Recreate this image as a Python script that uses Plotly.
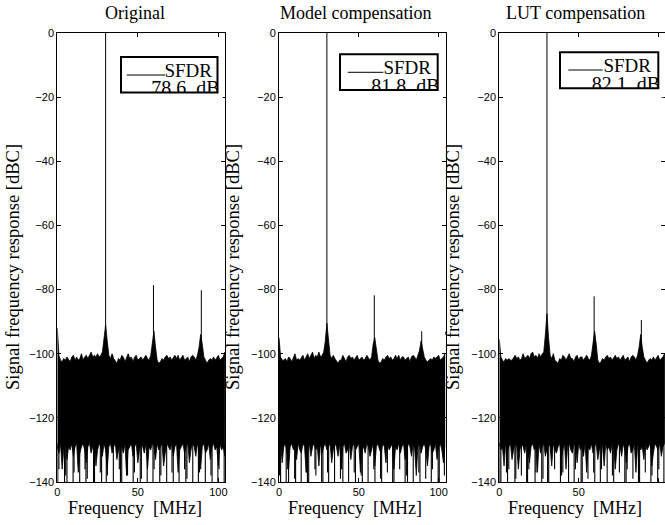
import plotly.graph_objects as go

# ---------------- data ----------------
panel_titles = ["Original", "Model compensation", "LUT compensation"]
sfdr_db = ["78.6", "81.8", "82.1"]

freq_step_mhz = 1.0  # spectrum envelope sampled every 1 MHz, 0..104 MHz

# upper edge of the noise floor [dBc]
upper_orig = [-92, -100.5, -102, -102.5, -101.5, -102, -101, -102, -102.5, -101,
              -100.5, -102, -101, -102, -101.5, -100, -102, -101, -100.5, -101.5,
              -100.5, -99.5, -101, -100.5, -101, -100, -101, -100.5, -99.5, -95,
              -91, -96, -100.5, -101.5, -100, -101.5, -102.5, -103, -101.5, -102,
              -100.5, -101, -102.5, -101, -100, -101.5, -101, -102.5, -101, -100.5,
              -102, -101.5, -101, -102, -101, -100.5, -101.5, -102, -100.5, -96,
              -93, -98, -102, -103, -102.5, -101.5, -102, -101, -100.5, -101.5,
              -101, -102, -101, -100.5, -101.5, -100.5, -102, -101, -100.5, -102,
              -101.5, -101, -102.5, -101, -100.5, -101, -102, -100.5, -98, -94,
              -97, -101, -102, -103, -102, -101.5, -102, -101, -102, -101,
              -100.5, -102, -101.5, -101, -99.5]
upper_model = [-95, -101, -102, -102, -101.5, -102.5, -101, -101.5, -102.5, -101,
               -100, -102, -101.5, -102, -101, -100.5, -102, -101, -100, -101.5,
               -100.5, -99.5, -101.5, -100.5, -101, -99.5, -101, -100.5, -99.5, -96,
               -90.5, -95, -100.5, -101.5, -100.5, -101.5, -102.5, -103, -102, -102,
               -100.5, -101.5, -102.5, -101, -100.5, -101.5, -101, -102, -101, -100.5,
               -102, -101.5, -101, -102, -101.5, -100.5, -101.5, -102, -101, -97,
               -95, -98, -102, -103, -102.5, -101.5, -102, -101, -100.5, -101.5,
               -101, -102, -101.5, -100.5, -101.5, -100.5, -102, -101, -101, -102,
               -101.5, -101, -102.5, -101, -100.5, -101, -102, -100.5, -99, -96,
               -99, -101, -102, -102.5, -102, -101.5, -102, -101, -101.5, -101,
               -100.5, -102, -101.5, -101, -100]
upper_lut = [-95.5, -101, -102, -102.5, -101.5, -102, -101.5, -102, -102, -101,
             -100.5, -101.5, -101, -102, -101.5, -100, -101.5, -101, -100.5, -101.5,
             -100, -99.5, -101, -100.5, -101.5, -100, -101, -100, -99.5, -94,
             -87.5, -95, -100.5, -101.5, -100, -102, -102.5, -103, -101.5, -102,
             -100.5, -101, -102, -101, -100, -101.5, -101.5, -102.5, -101, -100.5,
             -102, -101, -101, -102, -101, -100.5, -101.5, -102, -100.5, -96,
             -93, -97, -102, -103, -102.5, -101.5, -102, -101, -100.5, -101.5,
             -101, -102, -101, -100.5, -101.5, -101, -102, -101, -100.5, -102,
             -101.5, -101, -102.5, -101, -100.5, -101, -102, -100.5, -98, -94,
             -98, -101, -102, -103, -102, -101.5, -102, -101, -102, -101,
             -100.5, -102, -101.5, -101, -100]

# lower edge of the solid part of the noise floor [dBc]
lower_orig = [-129, -131, -128, -136, -130, -128, -133, -129, -130, -128,
              -132, -129, -128, -137, -131, -129, -128, -130, -134, -129,
              -128, -131, -129, -128, -135, -130, -128, -129, -132, -128,
              -130, -136, -129, -128, -131, -129, -128, -133, -130, -128,
              -129, -131, -128, -138, -130, -129, -128, -132, -129, -128,
              -134, -130, -128, -129, -131, -128, -136, -129, -130, -128,
              -129, -133, -128, -130, -129, -128, -135, -131, -128, -129,
              -130, -128, -132, -129, -128, -137, -130, -129, -128, -131,
              -129, -128, -134, -130, -128, -129, -132, -128, -130, -136,
              -129, -128, -131, -130, -128, -133, -129, -128, -130, -129,
              -135, -128, -130, -129, -132]
lower_model = [-130, -128, -134, -129, -128, -131, -136, -129, -128, -130,
               -129, -133, -128, -130, -131, -128, -129, -137, -130, -128,
               -132, -129, -128, -130, -129, -135, -128, -131, -129, -128,
               -130, -129, -128, -134, -130, -128, -129, -132, -128, -136,
               -129, -128, -131, -130, -128, -133, -129, -128, -130, -129,
               -128, -137, -130, -129, -131, -128, -129, -132, -130, -128,
               -135, -129, -128, -130, -131, -128, -129, -134, -128, -130,
               -129, -128, -136, -129, -130, -128, -131, -129, -128, -133,
               -130, -128, -129, -132, -128, -130, -138, -129, -128, -131,
               -129, -128, -130, -135, -129, -128, -131, -130, -128, -133,
               -129, -128, -130, -134, -129]
lower_lut = [-128, -130, -129, -135, -128, -131, -129, -128, -133, -130,
             -128, -129, -136, -130, -128, -129, -131, -128, -130, -134,
             -129, -128, -130, -129, -137, -128, -131, -129, -128, -132,
             -130, -128, -129, -135, -128, -130, -131, -129, -128, -133,
             -130, -128, -136, -129, -128, -130, -131, -128, -129, -134,
             -128, -130, -129, -132, -128, -137, -129, -130, -128, -131,
             -129, -128, -133, -130, -128, -129, -135, -128, -130, -129,
             -131, -128, -129, -136, -130, -128, -129, -132, -128, -130,
             -134, -129, -128, -131, -130, -128, -137, -129, -128, -130,
             -129, -133, -128, -130, -129, -128, -135, -131, -128, -129,
             -130, -128, -132, -129, -128]

# deep downward noise spikes: frequency [MHz] and minimum [dBc] (below -140 = clipped)
dip_freq = [0.3, 1.0, 4.5, 5.2, 6.0, 9.8, 10.4, 13.9, 17.2, 17.8,
            18.6, 22.5, 23.1, 26.7, 27.5, 30.4, 31.1, 34.8, 38.5, 39.2,
            40.0, 43.6, 47.1, 47.9, 51.5, 52.2, 55.8, 59.4, 60.1, 63.6,
            64.3, 67.9, 71.2, 72.0, 75.6, 79.0, 79.8, 80.5, 84.1, 87.6,
            88.3, 91.9, 95.4, 96.1, 99.7, 100.4, 103.6]
dip_min_orig = [-145, -136, -145, -138, -145, -145, -137, -145, -136, -145,
                -139, -145, -145, -137, -145, -145, -138, -145, -136, -145,
                -145, -138, -145, -137, -145, -139, -145, -145, -136, -145,
                -138, -145, -137, -145, -145, -136, -145, -139, -145, -145,
                -137, -145, -138, -145, -145, -136, -145]
dip_min_model = [-138, -145, -145, -136, -145, -139, -145, -145, -137, -145,
                 -145, -136, -138, -145, -145, -137, -145, -145, -139, -136,
                 -145, -145, -137, -145, -138, -145, -145, -136, -145, -139,
                 -145, -137, -145, -145, -136, -145, -138, -145, -145, -137,
                 -145, -139, -145, -136, -145, -145, -138]
dip_min_lut = [-145, -145, -137, -145, -136, -145, -139, -138, -145, -145,
               -136, -145, -137, -145, -139, -145, -145, -136, -145, -138,
               -137, -145, -145, -136, -145, -145, -139, -137, -145, -145,
               -136, -145, -138, -145, -137, -145, -145, -136, -139, -145,
               -145, -137, -145, -138, -145, -136, -145]

# carrier and harmonic spur lines
spur_freq = [30.0, 59.7, 89.4]
spur_peak_orig = [0.0, -78.6, -80.2]
spur_peak_model = [0.0, -81.8, -93.0]
spur_peak_lut = [0.0, -82.1, -89.5]
spur_base = -100.0
dip_base = -128.0

upper_sets = [upper_orig, upper_model, upper_lut]
lower_sets = [lower_orig, lower_model, lower_lut]
dip_sets = [dip_min_orig, dip_min_model, dip_min_lut]
spur_sets = [spur_peak_orig, spur_peak_model, spur_peak_lut]

y_ticks = [0, -20, -40, -60, -80, -100, -120, -140]
x_ticks = [0, 50, 100]
x_range = [0, 104.3]
y_range = [-140, 0]

# ---------------- layout geometry (pixels of the 665x525 page) ----------------
W, H = 665, 525
panel_px = [(57.3, 225.3), (279.0, 445.5), (499.3, 665.0)]
top_px, bot_px = 33.0, 482.0
title_x_px = [134.5, 355.0, 575.0]
ylabel_x_px = [13.0, 233.0, 453.0]
legend_box_px = [(121.0, 57.0, 217.5, 92.5), (340.0, 54.3, 437.7, 90.0), (560.0, 52.3, 658.3, 88.3)]
legend_line_px = [(126.7, 165.0, 75.0), (347.7, 383.3, 72.3), (568.3, 602.7, 70.0)]
sfdr_text_px = [(212.0, 72.0), (431.0, 69.5), (651.0, 67.5)]
db_text_px = [(219.5, 90.0), (439.5, 87.5), (660.0, 85.5)]


def px(x):
    return x / W


def py(y):
    return 1 - y / H


serif = "Liberation Serif, Times New Roman, serif"
sans = "Liberation Sans, Arial, sans-serif"

fig = go.Figure()
annotations = []
shapes = []

for i in range(3):
    n = len(upper_sets[i])
    freqs = [k * freq_step_mhz for k in range(n)]
    xa = "x" if i == 0 else f"x{i+1}"
    ya = "y" if i == 0 else f"y{i+1}"
    x0, x1 = panel_px[i]

    def dx_of(p):  # page pixel -> data x of this panel
        return (p - x0) / (x1 - x0) * (x_range[1] - x_range[0]) + x_range[0]

    def dy_of(p):  # page pixel -> data y
        return y_range[1] - (p - top_px) / (bot_px - top_px) * (y_range[1] - y_range[0])

    # noise floor band
    fig.add_trace(go.Scatter(
        x=freqs + freqs[::-1],
        y=upper_sets[i] + lower_sets[i][::-1],
        fill="toself", fillcolor="black",
        mode="lines", line=dict(color="black", width=0.8),
        xaxis=xa, yaxis=ya, showlegend=False, hoverinfo="skip"))

    # deep downward spikes of the noise
    dx, dy = [], []
    for f, m in zip(dip_freq, dip_sets[i]):
        dx += [f, f, None]
        dy += [dip_base, m, None]
    fig.add_trace(go.Scatter(
        x=dx, y=dy, mode="lines", line=dict(color="black", width=1.1),
        xaxis=xa, yaxis=ya, showlegend=False, hoverinfo="skip"))

    # spur lines
    sx, sy = [], []
    for f, p in zip(spur_freq, spur_sets[i]):
        sx += [f, f, None]
        sy += [spur_base, p, None]
    fig.add_trace(go.Scatter(
        x=sx, y=sy, mode="lines", line=dict(color="black", width=1),
        xaxis=xa, yaxis=ya, showlegend=False, hoverinfo="skip"))

    # legend texts (drawn as text traces so the legend box can clip them)
    tx, ty = sfdr_text_px[i]
    fig.add_trace(go.Scatter(
        x=[dx_of(tx)], y=[dy_of(ty)], mode="text", text=["SFDR"],
        textposition="middle left", cliponaxis=False,
        textfont=dict(family=serif, size=19, color="black"),
        xaxis=xa, yaxis=ya, showlegend=False, hoverinfo="skip"))
    tx, ty = db_text_px[i]
    fig.add_trace(go.Scatter(
        x=[dx_of(tx)], y=[dy_of(ty)], mode="text", text=[f"{sfdr_db[i]}  dB"],
        textposition="middle left", cliponaxis=False,
        textfont=dict(family=serif, size=20, color="black"),
        xaxis=xa, yaxis=ya, showlegend=False, hoverinfo="skip"))

    axis_common = dict(
        showline=True, linecolor="black", linewidth=1, mirror="ticks",
        ticks="inside", ticklen=4, tickcolor="black", tickwidth=1,
        showgrid=False, zeroline=False, automargin=False,
        tickfont=dict(family=sans, size=11, color="black"))
    fig.update_layout(**{
        ("xaxis" if i == 0 else f"xaxis{i+1}"): dict(
            domain=[px(x0), min(1.0, px(x1))], range=x_range, tickvals=x_ticks,
            anchor=ya, **axis_common),
        ("yaxis" if i == 0 else f"yaxis{i+1}"): dict(
            domain=[py(bot_px), py(top_px)], range=y_range, tickvals=y_ticks,
            anchor=xa, **axis_common),
    })

    # titles and axis labels
    annotations.append(dict(text=panel_titles[i], x=px(title_x_px[i]), y=py(13),
                            xref="paper", yref="paper", showarrow=False,
                            xanchor="center", yanchor="middle",
                            font=dict(family=serif, size=18, color="black")))
    annotations.append(dict(text="Frequency  [MHz]", x=px(title_x_px[i]), y=py(508),
                            xref="paper", yref="paper", showarrow=False,
                            xanchor="center", yanchor="middle",
                            font=dict(family=serif, size=18, color="black")))
    annotations.append(dict(text="Signal frequency response [dBC]", x=px(ylabel_x_px[i]),
                            y=py(267), xref="paper", yref="paper", showarrow=False,
                            textangle=-90, xanchor="center", yanchor="middle",
                            font=dict(family=serif, size=18.5, color="black")))

    # legend box, with white covers that clip the overflowing text
    bx0, by0, bx1, by1 = legend_box_px[i]
    shapes.append(dict(type="rect", xref="paper", yref="paper",
                       x0=px(bx0), x1=px(bx1 + 5), y0=py(by1 + 9), y1=py(by1),
                       line=dict(width=0), fillcolor="white", layer="above"))
    shapes.append(dict(type="rect", xref="paper", yref="paper",
                       x0=px(bx1), x1=px(bx1 + 5), y0=py(by1 + 9), y1=py(by0),
                       line=dict(width=0), fillcolor="white", layer="above"))
    shapes.append(dict(type="rect", xref="paper", yref="paper",
                       x0=px(bx0), x1=px(bx1), y0=py(by1), y1=py(by0),
                       line=dict(color="black", width=2), fillcolor="rgba(0,0,0,0)",
                       layer="above"))
    lx0, lx1, ly = legend_line_px[i]
    shapes.append(dict(type="line", xref="paper", yref="paper",
                       x0=px(lx0), x1=px(lx1), y0=py(ly), y1=py(ly),
                       line=dict(color="black", width=1), layer="above"))

fig.update_layout(
    width=W, height=H, margin=dict(l=0, r=0, t=0, b=0, pad=0),
    paper_bgcolor="white", plot_bgcolor="white",
    annotations=annotations, shapes=shapes, showlegend=False)

fig.write_html("out.html")
